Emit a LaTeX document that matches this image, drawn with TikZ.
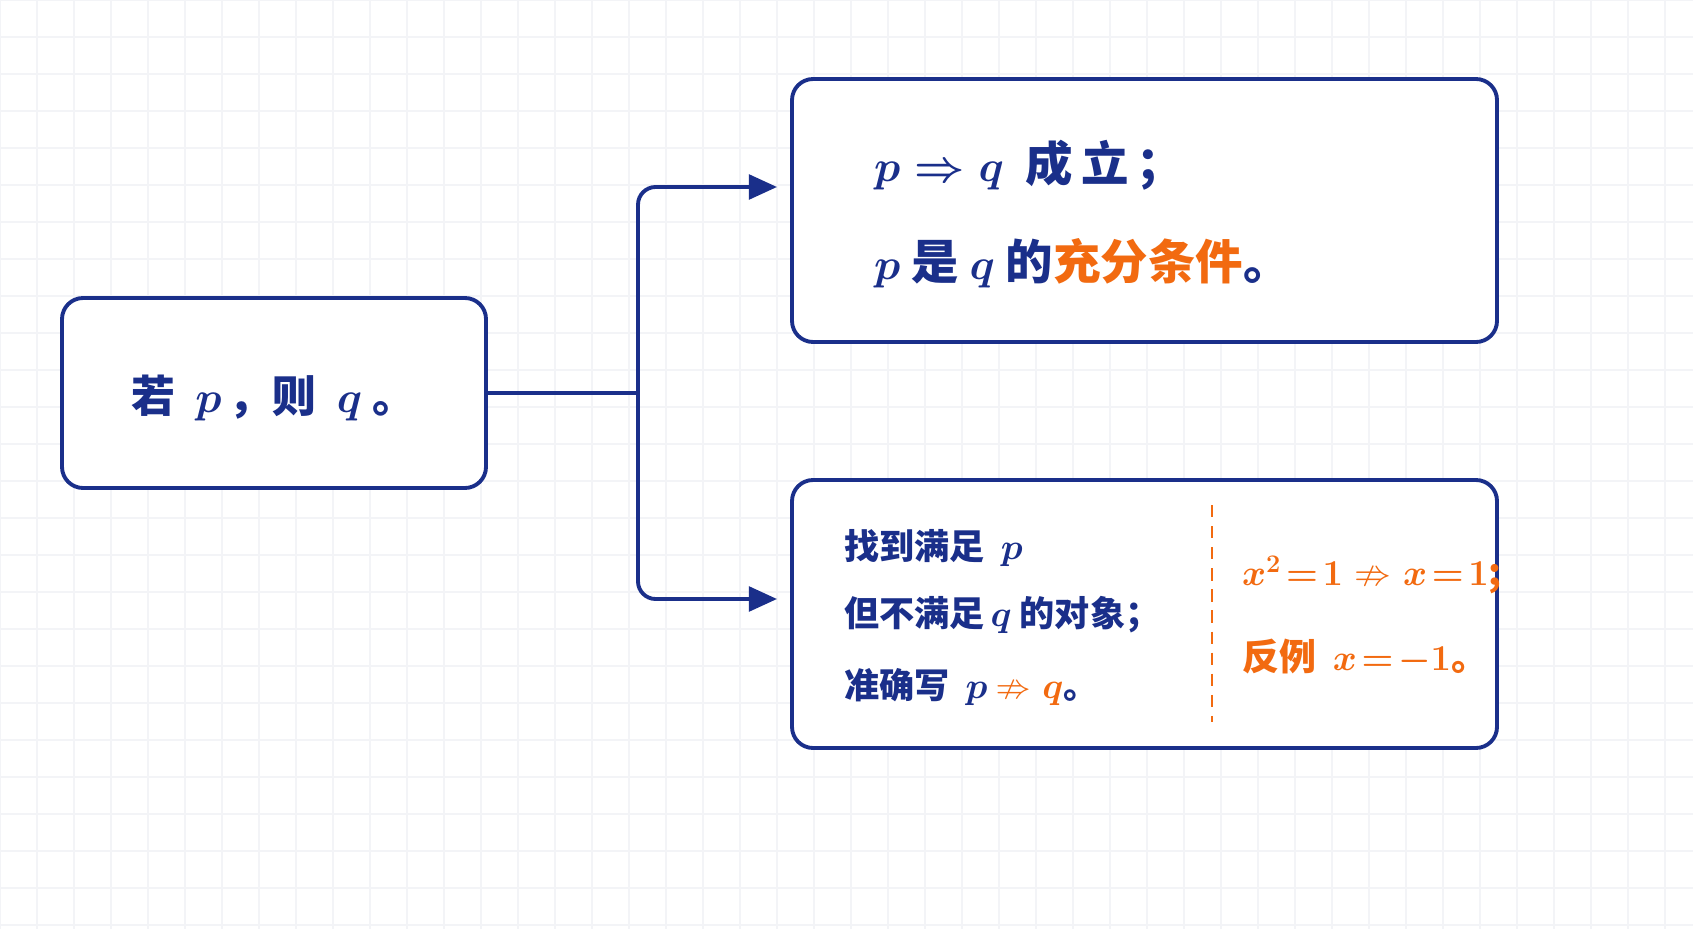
\documentclass[tikz,border=0pt]{standalone}
\usetikzlibrary{arrows.meta}
\usepackage{amsmath,amssymb}
\usepackage{fontspec}
\newfontfamily\cjk{Noto Sans CJK SC}
\definecolor{navy}{HTML}{1A2F8A}
\definecolor{orng}{HTML}{F26A10}
\definecolor{gridc}{HTML}{F3F4F7}
\begin{document}
\begin{tikzpicture}[x=0.02cm,y=-0.02cm,
  box/.style={draw=navy,line width=2.2pt,rounded corners=12pt,fill=white},
  conn/.style={draw=navy,line width=2.2pt,rounded corners=10pt},
  arr/.style={conn,-{Triangle[length=16pt,width=14pt]}},
  txt/.style={text=navy,anchor=west}]
\useasboundingbox (0,0) rectangle (1693,929);
\fill[white] (0,0) rectangle (1693,929);
\foreach \i in {0,37,...,1693} \draw[gridc,line width=0.6pt] (\i,0)--(\i,929);
\foreach \j in {0,37,...,929} \draw[gridc,line width=0.6pt] (0,\j)--(1693,\j);
\path[box] (62,298) rectangle (486,488);
\path[box] (792,79) rectangle (1497,342);
\path[box] (792,480) rectangle (1497,748);
\coordinate (L) at (486,393);
\coordinate (J) at (638,393);
\coordinate (T) at (777,187);
\coordinate (B) at (777,599);
\draw[conn] (L)--(J);
\draw[arr] (J)|-(T);
\draw[arr] (J)|-(B);
\draw[orng,line width=1.3pt,dash pattern=on 7pt off 5pt] (1212,505)--(1212,722);
\node[txt,font=\cjk\bfseries\boldmath\fontsize{25}{30}\selectfont] at (125,398) {若\ \ $\Large p$\,，则\ \ $\Large q$\ 。};
\node[txt,font=\cjk\bfseries\boldmath\fontsize{27}{32}\selectfont] at (868,165) {$\huge p\Rightarrow q$\ \ 成\,立\,；};
\node[txt,font=\cjk\bfseries\boldmath\fontsize{27}{32}\selectfont] at (868,263) {$\huge p$\ 是\ $\huge q$\ 的\textcolor{orng}{充分条件}。};
\node[txt,font=\cjk\bfseries\boldmath\fontsize{20}{24}\selectfont] at (838,548) {找到满足\ \ $\Large p$};
\node[txt,font=\cjk\bfseries\boldmath\fontsize{20}{24}\selectfont] at (838,615) {但不满足\,$\Large q$\ 的对象；};
\node[txt,font=\cjk\bfseries\boldmath\fontsize{20}{24}\selectfont] at (838,687) {准确写\ \ $\Large p$\ \textcolor{orng}{$\Large\nRightarrow q$}。};
\node[txt,text=orng,font=\cjk\bfseries\boldmath\fontsize{21}{25}\selectfont] at (1236,575) {$\Large x^2\!=\!1\nRightarrow x\!=\!1$;};
\node[txt,text=orng,font=\cjk\bfseries\boldmath\fontsize{21}{25}\selectfont] at (1236,657) {反例\ \ $\Large x\!=\!-1$。};
\end{tikzpicture}
\end{document}
